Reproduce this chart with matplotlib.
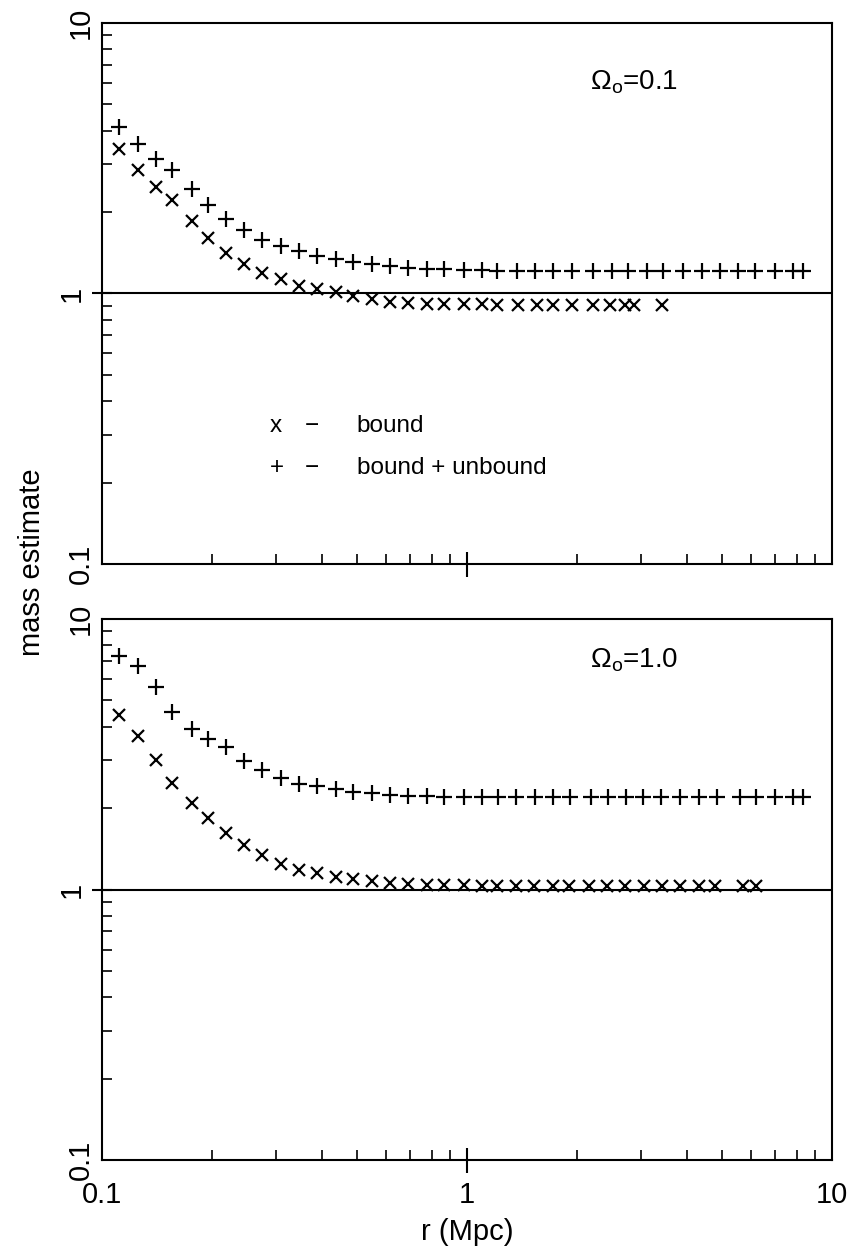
import numpy as np
import matplotlib
matplotlib.use("Agg")
import matplotlib.pyplot as plt
from matplotlib.ticker import LogLocator, NullFormatter, FixedLocator, FuncFormatter

plt.rcParams['font.family'] = ['Liberation Sans', 'DejaVu Sans']
plt.rcParams['mathtext.fontset'] = 'custom'
plt.rcParams['mathtext.rm'] = 'Liberation Sans'
plt.rcParams['mathtext.it'] = 'Liberation Sans'

# radii shared by the first 21 points of every series (Mpc)
r_inner = [0.1113, 0.1253, 0.1403, 0.1552, 0.176, 0.1955, 0.2186, 0.2454, 0.2749,
           0.3087, 0.3465, 0.3882, 0.4367, 0.4883, 0.548, 0.6152, 0.6906, 0.7783,
           0.865, 0.981, 1.097]

# --- Omega = 0.1 ---
r_top_plus = r_inner + [1.206, 1.369, 1.536, 1.724, 1.935, 2.218, 2.491, 2.766, 3.107,
                        3.451, 3.914, 4.395, 4.934, 5.515, 6.152, 6.98, 7.835, 8.345]
m_top_plus = [4.12, 3.58, 3.15, 2.87, 2.44, 2.12, 1.89, 1.71, 1.58, 1.50, 1.43, 1.38,
              1.34, 1.31, 1.29, 1.26, 1.245, 1.234, 1.227, 1.22, 1.22,
              1.215, 1.215, 1.21, 1.21, 1.21, 1.21, 1.21, 1.21, 1.21,
              1.21, 1.21, 1.21, 1.21, 1.21, 1.21, 1.21, 1.21, 1.21]
r_top_x = r_inner + [1.211, 1.382, 1.552, 1.724, 1.935, 2.218, 2.465, 2.71, 2.873, 3.415]
m_top_x = [3.41, 2.87, 2.47, 2.21, 1.85, 1.60, 1.41, 1.29, 1.19, 1.127, 1.07, 1.035,
           1.011, 0.977, 0.956, 0.934, 0.924, 0.918, 0.913, 0.911, 0.911,
           0.91, 0.91, 0.91, 0.91, 0.91, 0.91, 0.91, 0.91, 0.91, 0.91]

# --- Omega = 1.0 ---
r_bot_plus = r_inner + [1.214, 1.362, 1.536, 1.717, 1.915, 2.187, 2.438, 2.727, 3.041,
                        3.40, 3.833, 4.321, 4.832, 5.597, 6.192, 6.98, 7.835, 8.345]
m_bot_plus = [7.29, 6.73, 5.60, 4.52, 3.93, 3.61, 3.36, 2.98, 2.77, 2.59, 2.46, 2.42,
              2.36, 2.30, 2.27, 2.24, 2.226, 2.213, 2.207, 2.207, 2.207,
              2.2, 2.2, 2.2, 2.2, 2.2, 2.2, 2.2, 2.2, 2.2,
              2.2, 2.2, 2.2, 2.2, 2.2, 2.2, 2.2, 2.2, 2.2]
r_bot_x = r_inner + [1.206, 1.362, 1.526, 1.724, 1.903, 2.159, 2.414, 2.71, 3.054,
                     3.415, 3.833, 4.321, 4.781, 5.715, 6.192]
m_bot_x = [4.42, 3.71, 3.00, 2.48, 2.09, 1.835, 1.62, 1.455, 1.344, 1.245, 1.176, 1.149,
           1.117, 1.095, 1.073, 1.059, 1.05, 1.043, 1.037, 1.035, 1.032,
           1.03, 1.03, 1.03, 1.03, 1.03, 1.03, 1.03, 1.03, 1.03,
           1.03, 1.03, 1.03, 1.03, 1.03, 1.03]

omega_labels = [r'$\Omega_{\rm o}$=0.1', r'$\Omega_{\rm o}$=1.0']
decade_labels = {0.1: '0.1', 1.0: '1', 10.0: '10'}


def decade_fmt(v, pos):
    for k, s in decade_labels.items():
        if abs(v - k) < 1e-6 * k:
            return s
    return ''


fig = plt.figure(figsize=(8.49, 12.58), dpi=100)
ax_top = fig.add_axes([0.1201, 0.5517, 0.8598, 0.4300])
ax_bot = fig.add_axes([0.1201, 0.0779, 0.8598, 0.4300])

panels = [
    (ax_top, r_top_plus, m_top_plus, r_top_x, m_top_x, omega_labels[0], 0.891),
    (ax_bot, r_bot_plus, m_bot_plus, r_bot_x, m_bot_x, omega_labels[1], 0.924),
]

for ax, rp, mp, rx, mx, lab, ly in panels:
    ax.set_xscale('log')
    ax.set_yscale('log')
    ax.set_xlim(0.1, 10)
    ax.set_ylim(0.1, 10)
    ax.axhline(1.0, color='black', lw=1.5, zorder=1)
    ax.plot(rp, mp, ls='none', marker='+', ms=11, mew=1.6, color='black')
    ax.plot(rx, mx, ls='none', marker='x', ms=8, mew=1.6, color='black')
    ax.text(0.668, ly, lab, transform=ax.transAxes, fontsize=20, ha='left', va='center')

    for s in ax.spines.values():
        s.set_linewidth(1.5)

    # only the tick at 1 crosses the frame; the corner decades sit on the minor grid
    for axis in (ax.xaxis, ax.yaxis):
        axis.set_major_locator(FixedLocator([1.0]))
        axis.set_minor_locator(LogLocator(base=10, subs=np.arange(1, 10)))
        axis.set_major_formatter(FuncFormatter(decade_fmt))
        axis.set_minor_formatter(FuncFormatter(decade_fmt))

    ax.tick_params(axis='y', which='major', direction='inout', length=14, width=1.5, right=False)
    ax.tick_params(axis='y', which='minor', direction='in', length=7, width=1.2, right=False)
    ax.tick_params(axis='y', which='both', labelsize=21, pad=5, labelrotation=90)
    ax.tick_params(axis='x', which='major', direction='inout', length=18, width=1.5, top=False)
    ax.tick_params(axis='x', which='minor', direction='in', length=7, width=1.2, top=False)
    ax.tick_params(axis='x', which='both', labelsize=21)
    ax.tick_params(axis='x', which='major', pad=6)
    ax.tick_params(axis='x', which='minor', pad=15)
    for t in ax.get_yticklabels(which='both'):
        t.set_va('center')

# upper panel carries no x labels
ax_top.tick_params(axis='x', which='both', labelbottom=False)

# key inside the upper panel
ax_top.text(0.230, 0.255, 'x', transform=ax_top.transAxes, fontsize=17.5, ha='left', va='center')
ax_top.text(0.278, 0.255, '\u2212', transform=ax_top.transAxes, fontsize=17.5, ha='left', va='center')
ax_top.text(0.349, 0.255, 'bound', transform=ax_top.transAxes, fontsize=17.5, ha='left', va='center')
ax_top.text(0.230, 0.178, '+', transform=ax_top.transAxes, fontsize=17.5, ha='left', va='center')
ax_top.text(0.278, 0.178, '\u2212', transform=ax_top.transAxes, fontsize=17.5, ha='left', va='center')
ax_top.text(0.349, 0.178, 'bound + unbound', transform=ax_top.transAxes, fontsize=17.5,
            ha='left', va='center')

fig.text(0.038, 1 - 562 / 1258, 'mass estimate', rotation=90, fontsize=21,
         ha='center', va='center')
fig.text(0.5506, 1 - 1232 / 1258, 'r (Mpc)', fontsize=21, ha='center', va='center')

fig.savefig('out.png', dpi=100)
